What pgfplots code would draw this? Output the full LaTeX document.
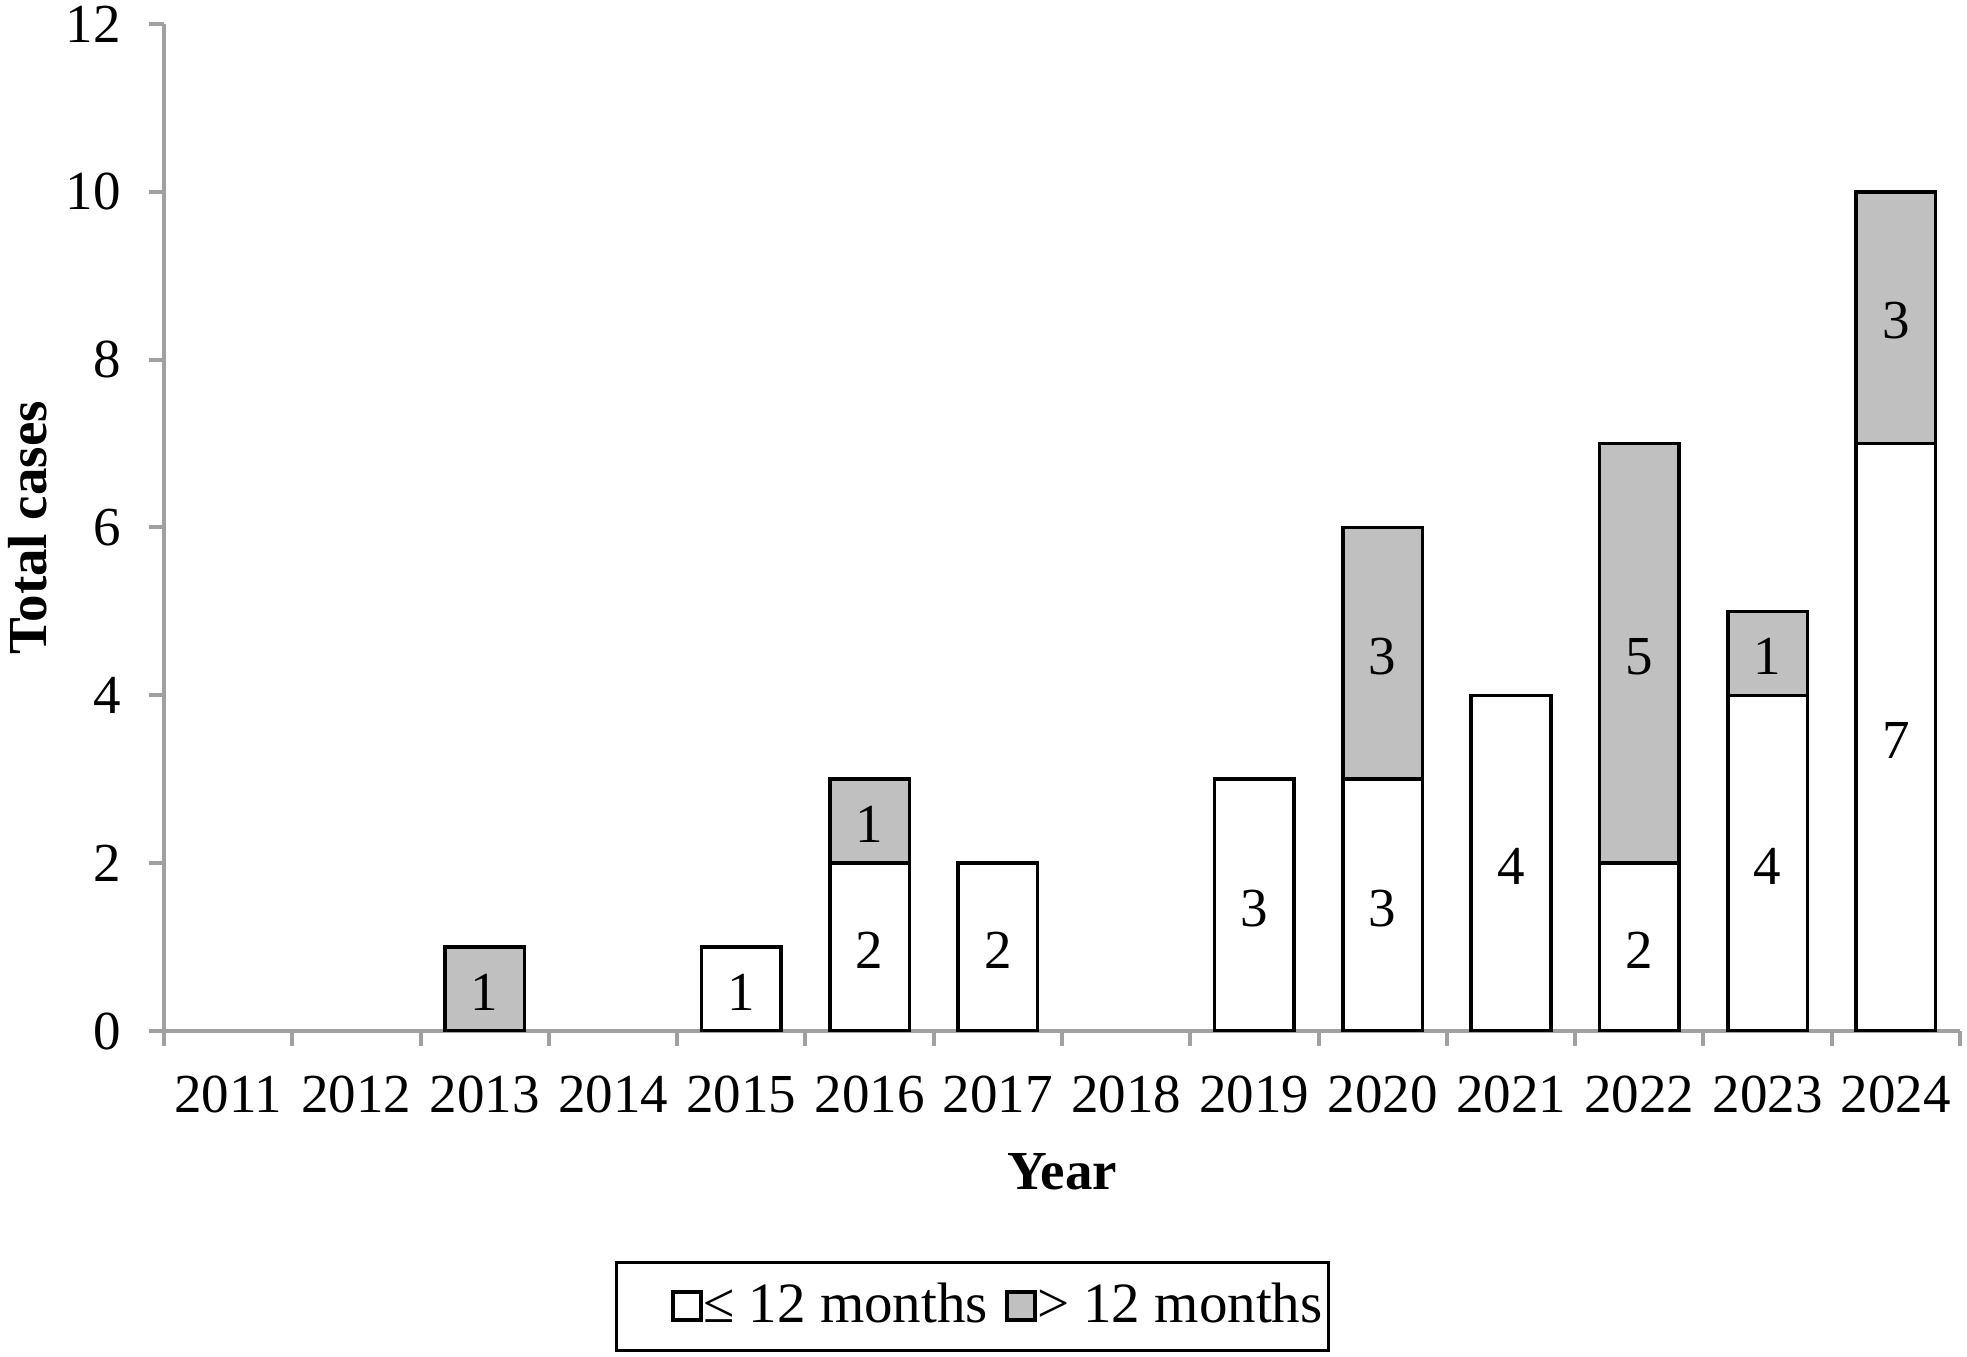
\documentclass[border=0pt]{standalone}
\usepackage{pgfplots}
\pgfplotsset{compat=1.18}
\usepackage{pgfplotstable}
\usepackage{fontspec}
\setmainfont{Liberation Serif}
\definecolor{axgray}{RGB}{160,160,160}
\definecolor{bargray}{RGB}{192,192,192}
\newcommand{\cf}{\fontsize{13.75}{16}\selectfont}
\newcommand{\lf}{\fontsize{14.25}{16}\selectfont}
\pgfplotstableread{
x lo hi
2 0 1
4 1 0
5 2 1
6 2 0
8 3 0
9 3 3
10 4 0
11 2 5
12 4 1
13 7 3
}\datatable
\begin{document}
\begin{tikzpicture}
\begin{axis}[
  name=ax,
  scale only axis, width=449pt, height=251.75pt,
  xmin=-0.5, xmax=13.5, ymin=0, ymax=12,
  ybar stacked, bar width=0.62,
  axis x line*=bottom, axis y line*=left,
  axis line style={axgray, line width=1pt},
  xtick={0,...,13},
  xticklabels={2011,2012,2013,2014,2015,2016,2017,2018,2019,2020,2021,2022,2023,2024},
  minor xtick={-0.5,0.5,...,13.5},
  ytick={0,2,...,12},
  tick align=outside,
  major tick length=3.75pt, minor tick length=3.75pt,
  major x tick style={draw=none},
  tick style={axgray, line width=1pt},
  /pgf/number format/assume math mode=true,
  tick label style={font=\cf},
  xticklabel style={yshift=-4pt},
  yticklabel style={xshift=-3.5pt},
  xlabel={\textbf{Year}}, ylabel={\textbf{Total cases}},
  label style={font=\cf},
  xlabel style={at={(axis description cs:0.5,-0.140)}, anchor=center},
  ylabel style={at={(axis description cs:-0.0757,0.5)}, anchor=center},
  legend columns=2,
  legend style={at={(0.2511,-0.228)}, anchor=north west, draw=black, line width=0.8pt,
    font=\lf, inner xsep=1pt, inner ysep=4.8pt,
    nodes={inner xsep=0.5pt, inner ysep=0.5pt},
    /tikz/every odd column/.append style={column sep=-0.5pt},
    /tikz/every even column/.append style={column sep=3.75pt}},
  point meta=explicit symbolic,
  nodes near coords={\ifnum\pgfplotspointmeta>0 \pgfplotspointmeta\fi},
  every node near coord/.append style={font=\cf, anchor=center, yshift=-0.8pt},
]
\addplot[fill=white, draw=black, line width=0.9pt,
  legend image code/.code={\path (-12.75pt,0pt); \draw[fill=white, draw=black, line width=1pt] (0pt,-3.5pt) rectangle (7pt,3.5pt);}]
  table[x=x, y=lo, meta=lo] \datatable;
\addplot[fill=bargray, draw=black, line width=0.9pt,
  legend image code/.code={\draw[fill=bargray, draw=black, line width=1pt] (0pt,-3.5pt) rectangle (7pt,3.5pt);}]
  table[x=x, y=hi, meta=hi] \datatable;
\legend{≤ 12 months, > 12 months}
\end{axis}
\pgfresetboundingbox
\path ([shift={(-41pt,-81.5pt)}]ax.south west) rectangle ([shift={(1.75pt,6pt)}]ax.north east);
\end{tikzpicture}
\end{document}
